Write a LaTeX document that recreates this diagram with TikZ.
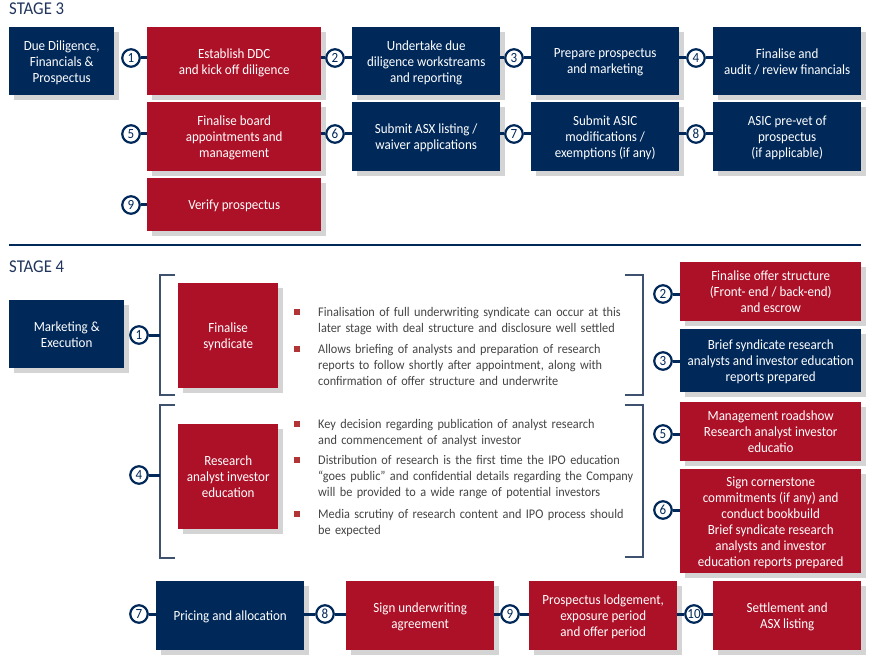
\documentclass[tikz,border=0pt]{standalone}
\usepackage{fontspec}
\setmainfont{Carlito}[FakeStretch=0.93]
\usetikzlibrary{calc}
\usetikzlibrary{shadows}
\definecolor{navy}{RGB}{0,41,90}
\definecolor{ipored}{RGB}{173,17,40}
\definecolor{shade}{RGB}{212,212,212}
\definecolor{brace}{RGB}{62,82,112}
\definecolor{bodytext}{RGB}{68,68,68}
\definecolor{dotred}{RGB}{178,52,52}
\definecolor{heading}{RGB}{32,52,92}
\tikzset{
  box/.style={rectangle, anchor=north west, inner sep=0pt, align=center, text=white,
    font=\fontsize{14}{16}\selectfont, text depth=-2pt,
    drop shadow={shadow xshift=5pt, shadow yshift=-5pt, fill=shade, opacity=1}},
  navybox/.style={box, fill=navy},
  redbox/.style={box, fill=ipored},
  num/.style={circle, draw=navy, line width=2.2pt, fill=white, minimum size=17.5pt,
    inner sep=0pt, text=navy, font=\fontsize{14}{14}\selectfont},
  link/.style={navy, line width=3pt},
  brk/.style={brace, line width=1.3pt},
  point/.style={anchor=base west, inner sep=0pt, text width=345pt, align=left,
    text=bodytext, font=\fontsize{13.2}{16}\selectfont},
  sq/.style={fill=dotred, minimum size=6pt, inner sep=0pt},
  stagelabel/.style={anchor=base west, inner sep=0pt, text=heading,
    font=\fontsize{18}{18}\selectfont}
}
\begin{document}
\begin{tikzpicture}[x=1pt,y=-1pt]
\useasboundingbox (0,0) rectangle (877,660);
\def\wa{148}
\def\wb{174}
\node[stagelabel] (st3) at (9,15) {STAGE 3};
\node[navybox, minimum width=105pt, minimum height=68pt] (dd) at (9,27) {Due Diligence,\\Financials \&\\Prospectus};
\node[redbox, minimum width=\wb pt, minimum height=68pt] (est) at (147,27) {Establish DDC\\and kick off diligence};
\node[navybox, minimum width=\wa pt, minimum height=68pt] (und) at (352,27) {Undertake due\\diligence workstreams\\and reporting};
\node[navybox, minimum width=\wa pt, minimum height=68pt] (prep) at (531,27) {Prepare prospectus\\and marketing};
\node[navybox, minimum width=\wa pt, minimum height=68pt] (fin) at (713,27) {Finalise and\\audit / review financials};
\node[redbox, minimum width=\wb pt, minimum height=69pt] (board) at (147,102) {Finalise board\\appointments and\\management};
\node[navybox, minimum width=\wa pt, minimum height=69pt] (asx) at (352,102) {Submit ASX listing /\\waiver applications};
\node[navybox, minimum width=\wa pt, minimum height=69pt] (asic) at (531,102) {Submit ASIC\\modifications /\\exemptions (if any)};
\node[navybox, minimum width=\wa pt, minimum height=69pt] (prevet) at (713,102) {ASIC pre-vet of\\prospectus\\(if applicable)};
\node[redbox, minimum width=\wb pt, minimum height=53pt] (verify) at (147,178) {Verify prospectus};
\node[num] (a1) at (131,58) {1};
\node[num] (a2) at (335,58) {2};
\node[num] (a3) at (514,58) {3};
\node[num] (a4) at (696,58) {4};
\node[num] (a5) at (131,134) {5};
\node[num] (a6) at (335,134) {6};
\node[num] (a7) at (514,134) {7};
\node[num] (a8) at (696,134) {8};
\node[num] (a9) at (131,205) {9};
\draw[link] (a1) -- (a1 -| est.west);
\draw[link] (a2) -- (a2 -| est.east);
\draw[link] (a2) -- (a2 -| und.west);
\draw[link] (a3) -- (a3 -| und.east);
\draw[link] (a3) -- (a3 -| prep.west);
\draw[link] (a4) -- (a4 -| prep.east);
\draw[link] (a4) -- (a4 -| fin.west);
\draw[link] (a5) -- (a5 -| board.west);
\draw[link] (a6) -- (a6 -| board.east);
\draw[link] (a6) -- (a6 -| asx.west);
\draw[link] (a7) -- (a7 -| asx.east);
\draw[link] (a7) -- (a7 -| asic.west);
\draw[link] (a8) -- (a8 -| asic.east);
\draw[link] (a8) -- (a8 -| prevet.west);
\draw[link] (a9) -- (a9 -| verify.west);
\draw[navy, line width=2.5pt] (9,245) -- (861,245);
\node[stagelabel] (st4) at (9,272) {STAGE 4};
\node[navybox, minimum width=115pt, minimum height=68pt] (mkt) at (9,300) {Marketing \&\\Execution};
\node[redbox, minimum width=100pt, minimum height=105pt] (synd) at (178,283) {Finalise\\syndicate};
\node[redbox, minimum width=100pt, minimum height=105pt] (res) at (178,424) {Research\\analyst investor\\education};
\node[redbox, minimum width=181pt, minimum height=59pt] (offer) at (680,262) {Finalise offer structure\\(Front- end / back-end)\\and escrow};
\node[navybox, minimum width=181pt, minimum height=63pt] (brief) at (680,329) {Brief syndicate research\\analysts and investor education\\reports prepared};
\node[redbox, minimum width=181pt, minimum height=59pt] (road) at (680,402) {Management roadshow\\Research analyst investor\\educatio};
\node[redbox, minimum width=181pt, minimum height=104pt] (corner) at (680,469) {Sign cornerstone\\commitments (if any) and\\conduct bookbuild\\Brief syndicate research\\analysts and investor\\education reports prepared};
\node[navybox, minimum width=\wa pt, minimum height=69pt] (price) at (156,581) {Pricing and allocation};
\node[redbox, minimum width=\wa pt, minimum height=69pt] (uw) at (346,581) {Sign underwriting\\agreement};
\node[redbox, minimum width=\wa pt, minimum height=69pt] (lodge) at (529,581) {Prospectus lodgement,\\exposure period\\and offer period};
\node[redbox, minimum width=\wa pt, minimum height=69pt] (settle) at (713,581) {Settlement and\\ASX listing};
\draw[brk] (175,275) -- (160,275) -- (160,395) -- (175,395);
\draw[brk] (175,405) -- (160,405) -- (160,558) -- (175,558);
\draw[brk] (625,275) -- (643,275) -- (643,395) -- (625,395);
\draw[brk] (625,405) -- (643,405) -- (643,557) -- (625,557);
\coordinate (lb1) at (160,335);
\coordinate (lb4) at (160,475);
\node[point] (p1) at (318,316) {Finalisation of full underwriting syndicate can occur at this\\later stage with deal structure and disclosure well settled};
\node[point] (p2) at (318,353) {Allows briefing of analysts and preparation of research\\reports to follow shortly after appointment, along with\\confirmation of offer structure and underwrite};
\node[point] (p3) at (318,428) {Key decision regarding publication of analyst research\\and commencement of analyst investor};
\node[point] (p4) at (318,464) {Distribution of research is the first time the IPO education\\“goes public” and confidential details regarding the Company\\will be provided to a wide range of potential investors};
\node[point] (p5) at (318,518) {Media scrutiny of research content and IPO process should\\be expected};
\foreach \p in {p1,p2,p3,p4,p5}
  \node[sq] at ([xshift=-21pt,yshift=4.5pt]\p.base west) {};
\node[num] (b1) at (139,335) {1};
\node[num] (b4) at (139,475) {4};
\node[num] (b2) at (663,294) {2};
\node[num] (b3) at (663,361) {3};
\node[num] (b5) at (663,434) {5};
\node[num] (b6) at (663,510) {6};
\node[num] (b7) at (139,614) {7};
\node[num] (b8) at (325,614) {8};
\node[num] (b9) at (510,614) {9};
\node[num] (b10) at (694,614) {10};
\draw[link] (b1) -- (lb1);
\draw[link] (b4) -- (lb4);
\draw[link] (b2) -- (b2 -| offer.west);
\draw[link] (b3) -- (b3 -| brief.west);
\draw[link] (b5) -- (b5 -| road.west);
\draw[link] (b6) -- (b6 -| corner.west);
\draw[link] (b7) -- (b7 -| price.west);
\draw[link] (b8) -- (b8 -| price.east);
\draw[link] (b8) -- (b8 -| uw.west);
\draw[link] (b9) -- (b9 -| uw.east);
\draw[link] (b9) -- (b9 -| lodge.west);
\draw[link] (b10) -- (b10 -| lodge.east);
\draw[link] (b10) -- (b10 -| settle.west);
\end{tikzpicture}
\end{document}
